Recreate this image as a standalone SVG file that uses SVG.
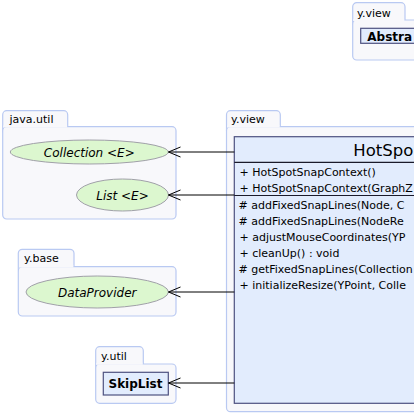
<svg xmlns="http://www.w3.org/2000/svg" width="414" height="414" viewBox="0 0 414 414">
<style>
.pkg{fill:#f8f8fb;stroke:#b9c9f2;stroke-width:1.2}
.tabt{font-family:"DejaVu Sans",sans-serif;font-size:11px;fill:#000}
.iface{fill:#dcf7cf;stroke:#a0a0a8;stroke-width:1}
.it{font-family:"DejaVu Sans",sans-serif;font-size:12px;font-style:italic;fill:#000}
.cls{fill:#e2ecfd;stroke:#4e5280;stroke-width:1.2}
.bt{font-family:"DejaVu Sans",sans-serif;font-size:12px;font-weight:bold;fill:#000}
.mem{font-family:"DejaVu Sans",sans-serif;font-size:11px;fill:#000}
.sep{stroke:#1a1a2a;stroke-width:1.2}
.conn{stroke:#000;stroke-width:1;fill:none}
</style>
<defs>
<marker id="open" markerUnits="userSpaceOnUse" markerWidth="20" markerHeight="20" refX="0" refY="0" orient="auto" overflow="visible">
<path d="M-12,-5 L0,0 L-12,5" fill="none" stroke="#000" stroke-width="1"/>
</marker>
</defs>

<g id="pkg-yview-top">
<rect class="pkg" x="352.7" y="2.7" width="52.3" height="24" rx="4"/>
<rect class="pkg" x="352.7" y="20" width="80" height="40" rx="4"/>
<rect x="353.3" y="19" width="51" height="2" fill="#f8f8fb"/>
<text class="tabt" x="357" y="17">y.view</text>
<rect class="cls" x="360.7" y="28.3" width="90" height="15" stroke="#7d86c4"/>
<text class="bt" x="367.3" y="40.5">Abstra</text>
</g>

<g id="pkg-java-util">
<rect class="pkg" x="2.7" y="110.7" width="65" height="24" rx="4"/>
<rect class="pkg" x="2.7" y="126.7" width="173.3" height="92.3" rx="4"/>
<rect x="3.3" y="125.5" width="63.8" height="2" fill="#f8f8fb"/>
<text class="tabt" x="9.5" y="123">java.util</text>
</g>
<g id="node-collection">
<ellipse class="iface" cx="89.3" cy="152" rx="79" ry="12"/>
<text class="it" x="89.3" y="156.5" text-anchor="middle">Collection &lt;E&gt;</text>
</g>
<g id="node-list">
<ellipse class="iface" cx="122.5" cy="195" rx="46" ry="16"/>
<text class="it" x="122.5" y="199.5" text-anchor="middle">List &lt;E&gt;</text>
</g>

<g id="pkg-ybase">
<rect class="pkg" x="18.3" y="249.3" width="55.7" height="24" rx="4"/>
<rect class="pkg" x="18.3" y="266.7" width="157.7" height="49.3" rx="4"/>
<rect x="19" y="265.5" width="54.4" height="2" fill="#f8f8fb"/>
<text class="tabt" x="24" y="262">y.base</text>
</g>
<g id="node-dataprovider">
<ellipse class="iface" cx="97.2" cy="292" rx="71.2" ry="16"/>
<text class="it" x="97.2" y="296.5" text-anchor="middle">DataProvider</text>
</g>

<g id="pkg-yutil">
<rect class="pkg" x="95.7" y="346.7" width="47.6" height="24" rx="4"/>
<rect class="pkg" x="95.7" y="364" width="80.3" height="39.3" rx="4"/>
<rect x="96.3" y="362.8" width="46.4" height="2" fill="#f8f8fb"/>
<text class="tabt" x="101" y="359.5">y.util</text>
</g>
<g id="node-skiplist">
<rect class="cls" x="103.3" y="372.3" width="65" height="22.7" stroke="#7d86c4"/>
<text class="bt" x="108.5" y="388">SkipList</text>
</g>

<g id="pkg-yview">
<rect class="pkg" x="226.5" y="110.7" width="53.8" height="24" rx="4"/>
<rect class="pkg" x="226.5" y="126.7" width="220" height="285" rx="4"/>
<rect x="227.1" y="125.5" width="52.6" height="2" fill="#f8f8fb"/>
<text class="tabt" x="231" y="123">y.view</text>
</g>
<g id="node-hotspotsnapcontext">
<rect class="cls" x="234.3" y="136.7" width="220" height="266.6"/>
<text x="353.3" y="156" font-family="'DejaVu Sans',sans-serif" font-size="16.5px" fill="#000">HotSpo</text>
<line class="sep" x1="234.3" y1="162.3" x2="414" y2="162.3"/>
<line class="sep" x1="234.3" y1="195.5" x2="414" y2="195.5"/>
<text class="mem" x="239.5" y="176">+ HotSpotSnapContext()</text>
<text class="mem" x="239.5" y="192">+ HotSpotSnapContext(GraphZ</text>
<text class="mem" x="238.5" y="209"># addFixedSnapLines(Node, C</text>
<text class="mem" x="238.5" y="225"># addFixedSnapLines(NodeRe</text>
<text class="mem" x="239.5" y="241">+ adjustMouseCoordinates(YP</text>
<text class="mem" x="239.5" y="257">+ cleanUp() : void</text>
<text class="mem" x="238.5" y="273"># getFixedSnapLines(Collection</text>
<text class="mem" x="239.5" y="289">+ initializeResize(YPoint, Colle</text>
</g>

<g id="connectors">
<line class="conn" x1="234.3" y1="152" x2="168.5" y2="152" marker-end="url(#open)"/>
<line class="conn" x1="234.3" y1="195" x2="168.5" y2="195" marker-end="url(#open)"/>
<line class="conn" x1="234.3" y1="292" x2="168.5" y2="292" marker-end="url(#open)"/>
<line class="conn" x1="234.3" y1="383" x2="168.5" y2="383" marker-end="url(#open)"/>
</g>
</svg>
